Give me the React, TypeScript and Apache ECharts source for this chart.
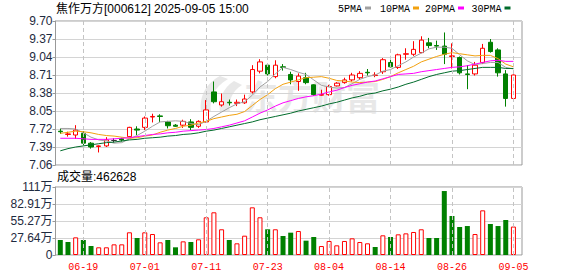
import React, { useEffect, useRef } from 'react';
import * as echarts from 'echarts';

const DATES = [
  '06-16', '06-17', '06-18', '06-19', '06-20', '06-23', '06-24', '06-25', '06-26', '06-27',
  '06-30', '07-01', '07-02', '07-03', '07-04', '07-07', '07-08', '07-09', '07-10', '07-11',
  '07-14', '07-15', '07-16', '07-17', '07-18', '07-21', '07-22', '07-23', '07-24', '07-25',
  '07-28', '07-29', '07-30', '07-31', '08-01', '08-04', '08-05', '08-06', '08-07', '08-08',
  '08-11', '08-12', '08-13', '08-14', '08-15', '08-18', '08-19', '08-20', '08-21', '08-22',
  '08-25', '08-26', '08-27', '08-28', '08-29', '09-01', '09-02', '09-03', '09-04', '09-05',
];
const TICK_DATES = ['06-19', '07-01', '07-11', '07-23', '08-04', '08-14', '08-26', '09-05'];

const OPEN = [
  7.68, 7.62, 7.61, 7.64, 7.46, 7.40, 7.41, 7.51, 7.54, 7.58,
  7.72, 7.75, 7.94, 7.96, 7.85, 7.79, 7.79, 7.85, 7.77, 7.85,
  8.40, 8.16, 8.21, 8.19, 8.20, 8.40, 8.78, 8.89, 8.68, 8.86,
  8.72, 8.59, 8.66, 8.53, 8.34, 8.35, 8.51, 8.57, 8.62, 8.66,
  8.76, 8.70, 8.77, 8.94, 8.85, 9.09, 9.09, 9.12, 9.30, 9.25,
  9.24, 9.05, 9.03, 8.73, 8.73, 8.94, 9.31, 9.17, 8.73, 8.28,
];
const CLOSE = [
  7.67, 7.63, 7.70, 7.46, 7.39, 7.41, 7.52, 7.51, 7.52, 7.75,
  7.70, 7.92, 7.95, 7.95, 7.78, 7.77, 7.86, 7.75, 7.86, 8.07,
  8.22, 8.22, 8.20, 8.21, 8.27, 8.81, 8.95, 8.73, 8.89, 8.85,
  8.62, 8.69, 8.57, 8.35, 8.35, 8.50, 8.56, 8.62, 8.71, 8.74,
  8.75, 8.71, 8.99, 8.86, 9.08, 9.10, 9.18, 9.35, 9.25, 9.24,
  9.09, 9.06, 8.75, 8.72, 8.89, 9.20, 9.14, 8.75, 8.28, 8.71,
];
const LOW = [
  7.63, 7.58, 7.54, 7.42, 7.36, 7.29, 7.39, 7.47, 7.49, 7.57,
  7.61, 7.70, 7.84, 7.85, 7.73, 7.76, 7.74, 7.70, 7.74, 7.84,
  8.19, 8.13, 8.15, 8.14, 8.18, 8.37, 8.74, 8.70, 8.65, 8.79,
  8.54, 8.42, 8.54, 8.33, 8.33, 8.33, 8.50, 8.55, 8.59, 8.62,
  8.70, 8.67, 8.73, 8.85, 8.82, 8.99, 9.06, 9.11, 9.20, 9.17,
  8.91, 8.83, 8.72, 8.45, 8.70, 8.91, 9.12, 8.68, 8.13, 8.27,
];
const HIGH = [
  7.73, 7.67, 7.79, 7.68, 7.48, 7.42, 7.57, 7.55, 7.56, 7.76,
  7.77, 7.95, 8.00, 7.99, 7.87, 7.81, 7.89, 7.90, 7.88, 8.25,
  8.59, 8.37, 8.26, 8.26, 8.35, 8.89, 9.00, 8.92, 8.98, 8.91,
  8.77, 8.74, 8.75, 8.54, 8.44, 8.53, 8.58, 8.66, 8.75, 8.78,
  8.82, 8.76, 9.02, 9.06, 9.10, 9.20, 9.33, 9.42, 9.39, 9.34,
  9.49, 9.29, 9.05, 8.89, 8.95, 9.28, 9.37, 9.20, 8.80, 8.72,
];
const DARK_DOJI = [7];

const MA5 = [
  7.73, 7.73, 7.72, 7.65, 7.57, 7.52, 7.50, 7.46, 7.47, 7.54,
  7.60, 7.68, 7.77, 7.85, 7.86, 7.87, 7.86, 7.82, 7.80, 7.86,
  7.95, 8.03, 8.11, 8.18, 8.22, 8.34, 8.49, 8.59, 8.73, 8.85,
  8.81, 8.76, 8.72, 8.62, 8.52, 8.49, 8.47, 8.48, 8.55, 8.63,
  8.68, 8.71, 8.78, 8.81, 8.88, 8.95, 9.04, 9.11, 9.19, 9.22,
  9.22, 9.20, 9.08, 8.97, 8.90, 8.92, 8.94, 8.94, 8.85, 8.82,
];
const MA10 = [
  7.64, 7.66, 7.68, 7.67, 7.65, 7.62, 7.60, 7.59, 7.57, 7.55,
  7.56, 7.59, 7.61, 7.66, 7.70, 7.73, 7.77, 7.79, 7.83, 7.86,
  7.91, 7.94, 7.97, 7.99, 8.04, 8.15, 8.26, 8.35, 8.46, 8.54,
  8.58, 8.62, 8.66, 8.67, 8.68, 8.65, 8.61, 8.60, 8.58, 8.57,
  8.58, 8.59, 8.63, 8.68, 8.75, 8.81, 8.87, 8.95, 9.00, 9.05,
  9.09, 9.12, 9.10, 9.08, 9.06, 9.07, 9.07, 9.01, 8.91, 8.86,
];
const MA20 = [
  7.55, 7.55, 7.55, 7.54, 7.53, 7.53, 7.53, 7.54, 7.55, 7.56,
  7.58, 7.60, 7.62, 7.63, 7.65, 7.66, 7.68, 7.69, 7.70, 7.71,
  7.73, 7.76, 7.79, 7.83, 7.87, 7.94, 8.01, 8.07, 8.14, 8.20,
  8.24, 8.28, 8.31, 8.33, 8.36, 8.40, 8.43, 8.48, 8.52, 8.55,
  8.58, 8.60, 8.64, 8.68, 8.72, 8.73, 8.74, 8.77, 8.79, 8.81,
  8.83, 8.85, 8.86, 8.88, 8.91, 8.94, 8.97, 8.98, 8.96, 8.96,
];
const MA30 = [
  7.32, 7.36, 7.39, 7.41, 7.43, 7.45, 7.47, 7.48, 7.50, 7.52,
  7.53, 7.55, 7.56, 7.57, 7.59, 7.60, 7.62, 7.63, 7.65, 7.68,
  7.70, 7.73, 7.76, 7.79, 7.82, 7.85, 7.89, 7.92, 7.95, 7.98,
  8.01, 8.05, 8.08, 8.11, 8.14, 8.18, 8.21, 8.25, 8.29, 8.32,
  8.36, 8.38, 8.42, 8.45, 8.49, 8.54, 8.58, 8.63, 8.68, 8.72,
  8.75, 8.78, 8.79, 8.81, 8.83, 8.85, 8.85, 8.85, 8.83, 8.83,
];

// volume in 万手
const VOLUME = [
  24.4, 21.1, 28.7, 24.4, 14.6, 12.5, 12.5, 17.3, 17.3, 36.9,
  27.6, 36.9, 34.1, 20.6, 24.4, 12.5, 22.2, 21.1, 25.5, 61.3,
  69.4, 41.8, 24.4, 19.0, 31.4, 77.5, 61.3, 41.8, 41.8, 30.9,
  36.3, 39.0, 23.3, 29.3, 14.6, 22.8, 15.7, 22.8, 27.1, 21.1,
  19.0, 13.0, 32.0, 29.3, 33.6, 35.2, 37.4, 41.8, 27.6, 27.6,
  104.0, 63.4, 45.5, 47.1, 34.1, 72.6, 50.4, 47.1, 56.9, 46.2628,
];
const VOL_UP = [
  0, 0, 1, 0, 0, 1, 1, 1, 1, 1,
  0, 1, 1, 1, 0, 0, 1, 0, 1, 1,
  1, 1, 0, 1, 1, 1, 1, 0, 1, 0,
  0, 1, 0, 0, 1, 1, 1, 1, 1, 1,
  1, 0, 1, 0, 1, 1, 1, 1, 0, 0,
  0, 0, 0, 0, 1, 1, 0, 0, 0, 1,
];

const PRICE_MIN = 7.06;
const PRICE_MAX = 9.7;
const PRICE_STEP = 0.33;
const VOL_MAX = 110.55;
const VOL_STEP = 27.6375;
const VOL_TICK_LABELS = ['0', '27.64万', '55.27万', '82.91万', '111万'];

const TITLE = '焦作万方[000612] 2025-09-05 15:00';
const VOL_TITLE = '成交量:462628';
const WATERMARK = '东方财富';
const LEGEND = [
  { name: '5PMA', color: '#a0a0a0' },
  { name: '10PMA', color: '#f2a10f' },
  { name: '20PMA', color: '#ff00ff' },
  { name: '30PMA', color: '#006b2b' },
];

const UP = '#ff0000';
const DOWN = '#008000';
const SANS = '"Liberation Sans", "Noto Sans CJK SC", sans-serif';
const MONO = '"Liberation Mono", monospace';

const LOGO_D =
  'M 22 0 C 9 7 1 19 3 36 L 13 36 C 11 23 16 11 30 3 Z ' +
  'M 36 5 C 25 12 20 24 22 36 L 32 36 C 30 25 34 15 44 9 Z';

let logoRegistered = false;

export default function App() {
  const ref = useRef<HTMLDivElement>(null);

  useEffect(() => {
    document.body.style.margin = '0';
    if (!logoRegistered) {
      echarts.graphic.registerShape('wmLogo', echarts.graphic.extendPath(LOGO_D, {}));
      logoRegistered = true;
    }
    const chart = echarts.init(ref.current!, null, { renderer: 'svg' });

    const candleData = DATES.map((_, i) => {
      const item: any = { value: [OPEN[i], CLOSE[i], LOW[i], HIGH[i]] };
      if (DARK_DOJI.includes(i)) {
        item.itemStyle = { color: '#333', color0: '#333', borderColor: '#333', borderColor0: '#333' };
      }
      return item;
    });
    const volData = VOLUME.map((v, i) => ({
      value: v,
      itemStyle: VOL_UP[i]
        ? { color: '#ffffff', borderColor: UP, borderWidth: 1 }
        : { color: DOWN, borderColor: DOWN, borderWidth: 0 },
    }));
    const vLines = {
      silent: true,
      symbol: ['none', 'none'],
      label: { show: false },
      lineStyle: { color: '#c4c4c4', type: [4, 3], width: 1 },
      emphasis: { disabled: true },
      data: TICK_DATES.map((d) => ({ xAxis: d })),
    };
    const maNames = [MA5, MA10, MA20, MA30];

    const frameLeft = 55.5;
    const frameWidth = 466.5;
    const dataLeft = 56.46;
    const dataWidth = 460.8;

    const legendX = [338, 380, 425, 471.5];
    const graphics: any[] = [
      {
        type: 'wmLogo',
        x: 198,
        y: 76,
        scaleX: 1,
        scaleY: 1,
        silent: true,
        style: { fill: '#e8e8e8' },
      },
      {
        type: 'text',
        silent: true,
        x: 244,
        y: 78,
        style: {
          text: WATERMARK,
          font: 'bold 34px "Noto Sans CJK SC"',
          fill: '#e8e8e8',
        },
      },
      {
        type: 'text',
        style: { text: TITLE, x: 56, y: 9, verticalAlign: 'middle', align: 'left', font: `12px ${SANS}`, fill: '#000' },
      },
      {
        type: 'text',
        style: { text: VOL_TITLE, x: 57, y: 177, verticalAlign: 'middle', align: 'left', font: `12px ${SANS}`, fill: '#000' },
      },
    ];
    LEGEND.forEach((l, k) => {
      const w = l.name.length * 6;
      graphics.push({
        type: 'text',
        style: { text: l.name, x: legendX[k], y: 9, verticalAlign: 'middle', align: 'left', font: `10px ${MONO}`, fill: '#000' },
      });
      graphics.push({
        type: 'rect',
        shape: { x: legendX[k] + w + 3, y: 6.5, width: 6, height: 3 },
        style: { fill: l.color },
      });
    });

    chart.setOption({
      animation: false,
      backgroundColor: '#ffffff',
      grid: [
        { left: frameLeft, top: 21, width: frameWidth, height: 144, show: true, borderColor: '#999', borderWidth: 1 },
        { left: dataLeft, top: 21, width: dataWidth, height: 144 },
        { left: frameLeft, top: 187, width: frameWidth, height: 68, show: true, borderColor: '#999', borderWidth: 1 },
        { left: dataLeft, top: 187, width: dataWidth, height: 68 },
      ],
      xAxis: [
        { type: 'value', gridIndex: 0, min: 0, max: 1, show: false },
        { type: 'category', gridIndex: 1, data: DATES, boundaryGap: true, show: false },
        { type: 'value', gridIndex: 2, min: 0, max: 1, show: false },
        {
          type: 'category',
          gridIndex: 3,
          data: DATES,
          boundaryGap: true,
          axisLine: { show: false },
          axisTick: { show: false },
          splitLine: { show: false },
          axisLabel: {
            interval: (idx: number) => idx % 8 === 3,
            color: UP,
            fontFamily: MONO,
            fontSize: 10,
            margin: 7,
          },
        },
      ],
      yAxis: [
        {
          type: 'value',
          gridIndex: 0,
          min: PRICE_MIN,
          max: PRICE_MAX,
          interval: PRICE_STEP,
          axisLine: { show: true, lineStyle: { color: '#999' } },
          axisTick: { show: true, length: 3, lineStyle: { color: '#999' } },
          splitLine: { show: true, lineStyle: { color: '#d4d4d4', width: 1 } },
          axisLabel: {
            formatter: (v: number) => v.toFixed(2),
            color: '#1e2a40',
            fontFamily: SANS,
            fontSize: 12,
            margin: 3,
          },
        },
        { type: 'value', gridIndex: 1, min: PRICE_MIN, max: PRICE_MAX, show: false },
        {
          type: 'value',
          gridIndex: 2,
          min: 0,
          max: VOL_MAX,
          interval: VOL_STEP,
          axisLine: { show: true, lineStyle: { color: '#999' } },
          axisTick: { show: true, length: 3, lineStyle: { color: '#999' } },
          splitLine: { show: true, lineStyle: { color: '#d4d4d4', width: 1 } },
          axisLabel: {
            formatter: (_v: number, i: number) => VOL_TICK_LABELS[i] ?? '',
            color: '#1e2a40',
            fontFamily: SANS,
            fontSize: 12,
            margin: 3,
          },
        },
        { type: 'value', gridIndex: 3, min: 0, max: VOL_MAX, show: false },
      ],
      series: [
        {
          type: 'candlestick',
          xAxisIndex: 1,
          yAxisIndex: 1,
          data: candleData,
          barWidth: 5,
          itemStyle: { color: '#ffffff', color0: DOWN, borderColor: UP, borderColor0: DOWN, borderWidth: 1 },
          markLine: vLines,
          z: 3,
        },
        ...LEGEND.map((l, k) => ({
          type: 'line',
          name: l.name,
          xAxisIndex: 1,
          yAxisIndex: 1,
          data: maNames[k],
          showSymbol: false,
          symbol: 'none',
          lineStyle: { color: l.color, width: 1 },
          itemStyle: { color: l.color },
          z: 4,
        })),
        {
          type: 'bar',
          xAxisIndex: 3,
          yAxisIndex: 3,
          data: volData,
          barWidth: 5,
          markLine: vLines,
        },
      ],
      graphic: graphics,
    });

    return () => chart.dispose();
  }, []);

  return <div ref={ref} style={{ width: 578, height: 276 }} />;
}
